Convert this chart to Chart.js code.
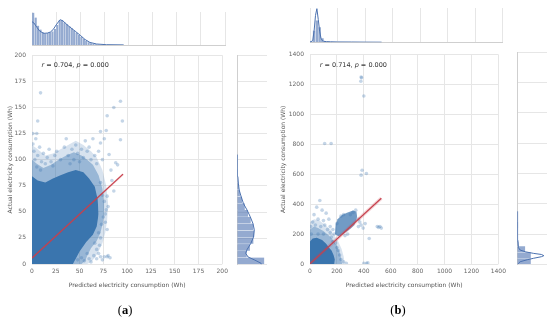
<!DOCTYPE html>
<html>
<head>
<meta charset="utf-8">
<script src="https://cdn.jsdelivr.net/npm/chart.js@4.4.0/dist/chart.umd.min.js"></script>
<style>
body { margin: 0; background: #fff; width: 550px; height: 324px; position: relative; overflow: hidden; }
canvas { position: absolute; }
.lbl { position: absolute; font-family: "Liberation Serif", serif; font-size: 12.5px; color: #000; transform: translate(-50%, -50%); }
</style>
</head>
<body>
<canvas id="aTop" width="232" height="40" style="left:0;top:8px"></canvas>
<canvas id="aMain" width="232" height="247" style="left:0;top:45px"></canvas>
<canvas id="aRight" width="40" height="219" style="left:232px;top:50px"></canvas>
<canvas id="bTop" width="235" height="42" style="left:275px;top:4px"></canvas>
<canvas id="bMain" width="235" height="247" style="left:275px;top:45px"></canvas>
<canvas id="bRight" width="38" height="224" style="left:512px;top:45px"></canvas>
<div class="lbl" style="left:125px;top:310px">(<b>a</b>)</div>
<div class="lbl" style="left:398px;top:310px">(<b>b</b>)</div>
<script>
// ---- panel (a) ----
const aTicks = [0, 25, 50, 75, 100, 125, 150, 175, 200];
const aStats = { r: '0.704', p: '0.000' };
const aRegX = [0, 95.7];
const aRegY = [5.7, 86.1];
// scatter density: solid core, then two lighter rings (upper / lower edges)
const aCoreTop = [[0, 84], [6, 80], [14, 78], [22, 82], [30, 85], [38, 88], [46, 90], [54, 88], [60, 82], [66, 74], [69, 62], [70, 48]];
const aCoreLow = [[0, 0], [43, 0], [50, 12], [57, 21], [64, 28], [68, 36], [70, 48]];
const aMidTop = [[0, 100], [5, 96], [12, 92], [20, 95], [28, 100], [36, 104], [44, 107], [52, 104], [58, 100], [64, 95], [70, 85], [74, 72], [76, 55]];
const aMidLow = [[0, 0], [52, 0], [56, 3], [58, 8], [62, 15], [68, 22], [72, 30], [75, 42], [76, 55]];
const aOuterTop = [[0, 114], [6, 110], [14, 104], [22, 106], [30, 110], [38, 114], [46, 118], [54, 114], [62, 108], [68, 102], [74, 90], [78, 75], [80, 58]];
const aOuterLow = [[0, 0], [58, 0], [62, 2], [66, 6], [70, 12], [74, 20], [77, 30], [79, 42], [80, 58]];
const aPoints = [
  [1, 115], [2, 108], [4, 120], [3, 100], [6, 104], [8, 112], [10, 98], [12, 106], [14, 96], [16, 102], [18, 110], [1, 125], [5, 93], [9, 90], [20, 98], [22, 94], [24, 104],
  [26, 108], [30, 100], [34, 112], [36, 120], [38, 104], [40, 96], [42, 110], [44, 100], [46, 114], [48, 106], [50, 98], [52, 110], [54, 102], [56, 118], [58, 108], [60, 112], [62, 100], [64, 120], [66, 104], [68, 96], [70, 108], [72, 116], [74, 100],
  [9, 164], [6, 137], [5, 125], [93, 156], [86, 150], [79, 142], [95, 137], [78, 128], [72, 127], [76, 120], [93, 119], [88, 97], [81, 105], [83, 90], [86, 70], [79, 65], [77, 48], [79, 33], [71, 18], [84, 80], [90, 95],
  [72, 78], [74, 66], [76, 60], [78, 52], [75, 45], [73, 38], [77, 40], [80, 55], [70, 30], [72, 25], [66, 20], [68, 14],
  [48, 4], [52, 6], [55, 3], [58, 10], [60, 5], [62, 2], [65, 8], [68, 5], [72, 7], [76, 7], [79, 7], [82, 6], [80, 8], [74, 4], [70, 10]
];
const aHistTopX = [1.25, 3.75, 6.25, 8.75, 11.25, 13.75, 16.25, 18.75, 21.25, 23.75, 26.25, 28.75, 31.25, 33.75, 36.25, 38.75, 41.25, 43.75, 46.25, 48.75, 51.25, 53.75, 56.25, 58.75, 61.25, 63.75, 66.25, 68.75];
const aHistTopY = [1.0, 0.85, 0.6, 0.48, 0.4, 0.36, 0.37, 0.4, 0.42, 0.5, 0.62, 0.76, 0.77, 0.7, 0.64, 0.58, 0.52, 0.45, 0.38, 0.31, 0.25, 0.19, 0.13, 0.09, 0.06, 0.04, 0.02, 0.01];
const aKdeTopX = [0, 2, 5, 8, 12, 16, 19, 22, 25, 29, 32, 35, 39, 45, 50, 55, 60, 67, 77, 95];
const aKdeTopY = [0.72, 0.68, 0.55, 0.43, 0.36, 0.37, 0.4, 0.48, 0.62, 0.78, 0.75, 0.66, 0.56, 0.42, 0.3, 0.17, 0.08, 0.03, 0.01, 0.003];
const aHistRightY = [3.25, 9.75, 16.25, 22.75, 29.25, 35.75, 42.25, 48.75, 55.25, 61.75, 68.25, 74.75, 81.25, 87.75];
const aHistRightX = [1.0, 0.35, 0.47, 0.6, 0.63, 0.6, 0.5, 0.4, 0.28, 0.18, 0.1, 0.06, 0.03, 0.02];
const aKdeRightY = [0, 1, 4, 7, 10.5, 14, 20, 26, 33, 39, 45.5, 52, 58, 65, 71, 77.5, 84, 95, 105];
const aKdeRightX = [0.9, 0.88, 0.65, 0.4, 0.31, 0.36, 0.5, 0.6, 0.63, 0.58, 0.48, 0.36, 0.23, 0.14, 0.07, 0.04, 0.02, 0.008, 0.003];

// ---- panel (b) ----
const bTicks = [0, 200, 400, 600, 800, 1000, 1200, 1400];
const bStats = { r: '0.714', p: '0.000' };
const bRegX = [0, 530];
const bRegY = [2, 440];
const bCoreTop = [[0, 150], [20, 170], [50, 175], [90, 160], [120, 135], [140, 110], [160, 90], [175, 60], [185, 30]];
const bCoreLow = [[0, 0], [180, 0], [185, 30]];
const bMidTop = [[0, 230], [30, 250], [60, 240], [100, 220], [140, 190], [170, 160], [200, 120], [220, 80], [230, 40], [240, 0]];
const bMidLow = [[0, 0], [240, 0]];
const bOuterTop = [[0, 280], [30, 300], [70, 290], [110, 262], [150, 232], [180, 192], [210, 150], [235, 100], [250, 50], [258, 0]];
const bOuterLow = [[0, 0], [258, 0]];
const bClusterTop = [[185, 200], [190, 260], [205, 300], [240, 330], [280, 345], [320, 358], [345, 350], [350, 320]];
const bClusterLow = [[185, 200], [210, 185], [240, 195], [270, 215], [300, 235], [330, 260], [345, 290], [350, 320]];
const bPoints = [
  [380, 1250], [383, 1245], [378, 1222], [400, 1123], [109, 806], [157, 806], [387, 627], [380, 594], [419, 605],
  [73, 425], [50, 380], [30, 330], [90, 360], [120, 340], [140, 300], [20, 280], [60, 300], [100, 290], [5, 250], [40, 260], [80, 250], [110, 260],
  [130, 230], [150, 210], [160, 180], [170, 150], [190, 140], [200, 110], [210, 90], [220, 60], [230, 30], [250, 15], [270, 5], [400, 5], [420, 5], [430, 8],
  [440, 170], [380, 260], [360, 250], [395, 240], [410, 270], [500, 250], [510, 245], [520, 250], [530, 240], [300, 330], [320, 345], [340, 360], [250, 330],
  [230, 320], [360, 300], [370, 280], [280, 200], [260, 190], [150, 250], [170, 230], [180, 200], [60, 200], [100, 200], [10, 200], [200, 270]
];
const bHistTopX = [10, 30, 50, 70, 90, 110, 130, 150];
const bHistTopY = [0.05, 0.35, 0.65, 0.45, 0.12, 0.04, 0.02, 0.01];
const bKdeTopX = [0, 10, 20, 30, 40, 50, 60, 70, 80, 90, 100, 120, 150, 200, 300, 400, 520];
const bKdeTopY = [0, 0.02, 0.06, 0.35, 0.8, 1.0, 0.68, 0.33, 0.12, 0.05, 0.03, 0.02, 0.015, 0.01, 0.008, 0.005, 0.003];
const bHistRightY = [20, 60, 100, 140, 180, 220, 260];
const bHistRightX = [0.48, 0.48, 0.28, 0.05, 0.02, 0.02, 0.03];
const bKdeRightY = [0, 6, 17, 30, 40, 50, 57, 65, 72, 82, 94, 110, 150, 200, 270, 350];
const bKdeRightX = [0.02, 0.04, 0.1, 0.35, 0.58, 0.85, 0.94, 0.85, 0.58, 0.3, 0.1, 0.04, 0.02, 0.015, 0.01, 0.005];

const gridColor = '#e6e6e6';
const edgeColor = '#cfcfcf';
const dotColor = 'rgba(58,117,174,0.3)';
const barColor = 'rgba(76,114,176,0.6)';
const kdeColor = '#4c72b0';
const regColor = '#c8404c';
const tickFont = { family: 'DejaVu Sans', size: 6 };

const pairs = arr => arr.map(([x, y]) => ({ x, y }));
const zip = (xs, ys) => xs.map((x, i) => ({ x, y: ys[i] }));

const statText = {
  id: 'statText',
  afterDraw(chart, args, opts) {
    const { ctx, scales } = chart;
    let x = scales.x.getPixelForValue(opts.x);
    const y = scales.y.getPixelForValue(opts.y);
    ctx.save();
    ctx.fillStyle = '#333';
    ctx.textBaseline = 'middle';
    const parts = [['r', true], [' = ' + opts.r + ', ', false], ['p', true], [' = ' + opts.p, false]];
    for (const [t, it] of parts) {
      ctx.font = (it ? 'italic ' : '') + '6.5px "DejaVu Sans"';
      ctx.fillText(t, x, y);
      x += ctx.measureText(t).width;
    }
    ctx.restore();
  }
};

function lineSet(data, extra) {
  return Object.assign({ type: 'line', data, pointRadius: 0, borderWidth: 0, fill: false, tension: 0 }, extra);
}

// adds an upper edge filled down to its lower edge
function addBand(sets, top, low, color) {
  sets.push(lineSet(pairs(top), { fill: sets.length + 1, backgroundColor: color }));
  sets.push(lineSet(pairs(low)));
}

function mainChart(id, cfg) {
  const sets = [
    lineSet(zip(cfg.regX, cfg.regY), { borderColor: regColor, borderWidth: 1.2 }),
    lineSet(zip(cfg.regX, cfg.regY), { borderColor: 'rgba(200,64,76,0.22)', borderWidth: cfg.band }),
    { type: 'scatter', data: pairs(cfg.points), pointRadius: 1.8, pointBackgroundColor: dotColor, pointBorderWidth: 0 }
  ];
  addBand(sets, cfg.coreTop, cfg.coreLow, '#3a75ae');
  if (cfg.clusterTop) addBand(sets, cfg.clusterTop, cfg.clusterLow, 'rgba(58,117,174,0.72)');
  addBand(sets, cfg.midTop, cfg.midLow, 'rgba(58,117,174,0.4)');
  addBand(sets, cfg.outerTop, cfg.outerLow, 'rgba(58,117,174,0.2)');
  const max = cfg.ticks[cfg.ticks.length - 1];
  const step = cfg.ticks[1] - cfg.ticks[0];
  return new Chart(document.getElementById(id), {
    type: 'scatter',
    data: { datasets: sets },
    options: {
      responsive: false, animation: false, events: [],
      layout: { padding: cfg.pad },
      plugins: { legend: { display: false }, tooltip: { enabled: false }, statText: cfg.stat },
      scales: {
        x: {
          type: 'linear', min: 0, max,
          ticks: { stepSize: step, color: '#666', font: tickFont, padding: 4, maxRotation: 0, callback: v => cfg.ticks.includes(v) ? v : '' },
          grid: { color: gridColor, drawTicks: false },
          border: { display: false },
          title: { display: true, text: 'Predicted electricity consumption (Wh)', color: '#555', font: tickFont, padding: { top: 0, bottom: 3.4 } },
          afterFit(s) { s.height = 28; }
        },
        y: {
          type: 'linear', min: 0, max,
          ticks: { stepSize: step, color: '#666', font: tickFont, padding: 6, callback: v => cfg.ticks.includes(v) ? v : '' },
          grid: { color: gridColor, drawTicks: false },
          border: { display: false },
          title: { display: true, text: 'Actual electricity consumption (Wh)', color: '#555', font: tickFont, padding: { top: cfg.ytPad, bottom: 0 } },
          afterFit(s) { s.width = cfg.yWidth; }
        }
      }
    },
    plugins: [statText]
  });
}

function topChart(id, cfg) {
  const max = cfg.ticks[cfg.ticks.length - 1];
  return new Chart(document.getElementById(id), {
    type: 'bar',
    data: {
      datasets: [
        lineSet(zip(cfg.kdeX, cfg.kdeY), { borderColor: kdeColor, borderWidth: 1 }),
        { type: 'bar', data: zip(cfg.histX, cfg.histY), backgroundColor: barColor, borderColor: 'rgba(255,255,255,0.8)', borderWidth: 0.4, barPercentage: 1, categoryPercentage: 1 }
      ]
    },
    options: {
      responsive: false, animation: false, events: [],
      layout: { padding: cfg.pad },
      plugins: { legend: { display: false }, tooltip: { enabled: false } },
      scales: {
        x: {
          type: 'linear', min: 0, max, offset: false,
          ticks: { display: false, stepSize: cfg.ticks[1] - cfg.ticks[0] },
          grid: { color: gridColor, drawTicks: false, offset: false },
          border: { display: true, color: edgeColor }
        },
        y: { display: false, min: 0, max: 1.02 }
      }
    }
  });
}

function rightChart(id, cfg) {
  const max = cfg.ticks[cfg.ticks.length - 1];
  return new Chart(document.getElementById(id), {
    type: 'bar',
    data: {
      datasets: [
        lineSet(zip(cfg.kdeX, cfg.kdeY), { borderColor: kdeColor, borderWidth: 1 }),
        { type: 'bar', data: zip(cfg.histX, cfg.histY), backgroundColor: barColor, borderColor: 'rgba(255,255,255,0.8)', borderWidth: 0.4, barPercentage: 1, categoryPercentage: 1 }
      ]
    },
    options: {
      indexAxis: 'y',
      responsive: false, animation: false, events: [],
      layout: { padding: cfg.pad },
      plugins: { legend: { display: false }, tooltip: { enabled: false } },
      scales: {
        y: {
          type: 'linear', min: 0, max, offset: false,
          ticks: { display: false, stepSize: cfg.ticks[1] - cfg.ticks[0] },
          grid: { color: gridColor, drawTicks: false, offset: false },
          border: { display: true, color: edgeColor }
        },
        x: { display: false, min: 0, max: cfg.xMax }
      }
    }
  });
}

mainChart('aMain', {
  ticks: aTicks, regX: aRegX, regY: aRegY, band: 2, points: aPoints,
  coreTop: aCoreTop, coreLow: aCoreLow, midTop: aMidTop, midLow: aMidLow, outerTop: aOuterTop, outerLow: aOuterLow,
  pad: { left: 0, top: 10.3, right: 7, bottom: 0 }, yWidth: 32, ytPad: 6.4,
  stat: { x: 10, y: 190, r: aStats.r, p: aStats.p }
});
topChart('aTop', { ticks: aTicks, histX: aHistTopX, histY: aHistTopY, kdeX: aKdeTopX, kdeY: aKdeTopY, pad: { left: 32, right: 7, top: 4, bottom: 3 } });
rightChart('aRight', { ticks: aTicks, histX: aHistRightX, histY: aHistRightY, kdeX: aKdeRightX, kdeY: aKdeRightY, xMax: 1.1, pad: { left: 5.3, right: 5, top: 5.3, bottom: 4.7 } });

mainChart('bMain', {
  ticks: bTicks, regX: bRegX, regY: bRegY, band: 3.5, points: bPoints,
  coreTop: bCoreTop, coreLow: bCoreLow, midTop: bMidTop, midLow: bMidLow, outerTop: bOuterTop, outerLow: bOuterLow,
  clusterTop: bClusterTop, clusterLow: bClusterLow,
  pad: { left: 0, top: 7.3, right: 7.3, bottom: 0 }, yWidth: 35, ytPad: 4.4,
  stat: { x: 72, y: 1331, r: bStats.r, p: bStats.p }
});
topChart('bTop', { ticks: bTicks, histX: bHistTopX, histY: bHistTopY, kdeX: bKdeTopX, kdeY: bKdeTopY, pad: { left: 35, right: 7.3, top: 4, bottom: 3.7 } });
rightChart('bRight', { ticks: bTicks, histX: bHistRightX, histY: bHistRightY, kdeX: bKdeRightX, kdeY: bKdeRightY, xMax: 1.05, pad: { left: 5.3, right: 3, top: 7.3, bottom: 4.7 } });
</script>
</body>
</html>
